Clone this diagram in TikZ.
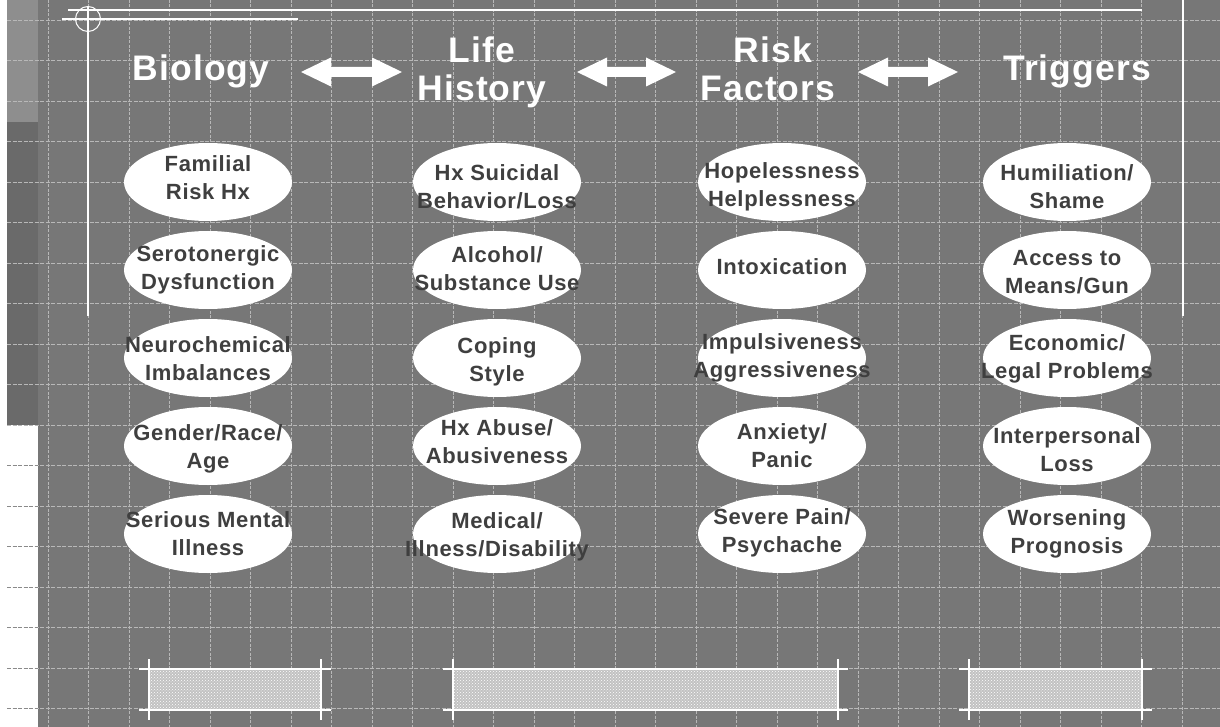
\documentclass[tikz,border=0pt]{standalone}
\usepackage{fontspec}
\setmainfont{Liberation Sans}
\newfontfamily\hdrfont{Liberation Sans}[LetterSpace=3]
\newfontfamily\ovfont{Liberation Sans}[LetterSpace=3]
\usetikzlibrary{shapes.geometric,patterns}
\definecolor{bg}{HTML}{777777}
\definecolor{stripA}{HTML}{8E8E8E}
\definecolor{stripB}{HTML}{6A6A6A}
\definecolor{gridc}{HTML}{B8B8B8}
\definecolor{gridw}{HTML}{8A8A8A}
\definecolor{txt}{HTML}{3F3F3F}
\definecolor{boxfill}{HTML}{C2C2C2}
\newcommand\myDblArrow[3]{%
  \fill[white] (#1,#3) -- (#1+30,#3-14.5) -- (#1+30,#3-5) -- (#2-30,#3-5) -- (#2-30,#3-14.5)
   -- (#2,#3) -- (#2-30,#3+14.5) -- (#2-30,#3+5) -- (#1+30,#3+5) -- (#1+30,#3+14.5) -- cycle;}
\newcommand\myBottomBox[2]{%
  \fill[boxfill] (#1,669) rectangle (#2,710);
  \fill[pattern=crosshatch dots, pattern color=white] (#1,669) rectangle (#2,710);
  \draw[deco] (#1-10,669) -- (#2+10,669);
  \draw[deco] (#1-10,710) -- (#2+10,710);
  \draw[deco] (#1,659) -- (#1,720);
  \draw[deco] (#2,659) -- (#2,720);}
% #1 name, #2 x, #3 y, #4 text y offset, #5 text
\newcommand\myOval[5]{%
  \node[oval] (#1) at (#2,#3) {};
  \node[otext, yshift=-#4pt] at (#1) {#5};}
\begin{document}
\begin{tikzpicture}[x=1pt,y=-1pt,
  gridv/.style={gridc, line width=0.8pt, dash pattern=on 3pt off 1.5pt},
  gridh/.style={gridc, line width=0.8pt, dash pattern=on 4pt off 1.5pt},
  gridwh/.style={gridw, line width=0.8pt, dash pattern=on 4pt off 1.5pt},
  deco/.style={white, line width=1.6pt},
  hdr/.style={text=white, inner sep=0pt, font=\hdrfont\bfseries\fontsize{35.5}{40}\selectfont},
  oval/.style={ellipse, fill=white, minimum width=168pt, minimum height=78pt, inner sep=0pt},
  otext/.style={text=txt, align=center, inner sep=0pt, font=\ovfont\bfseries\fontsize{22}{28}\selectfont}]
\useasboundingbox (0,0) rectangle (1220,727);
\fill[white] (0,0) rectangle (1220,727);
\fill[bg] (38,0) rectangle (1220,727);
\fill[stripA] (7,0) rectangle (38,122);
\fill[stripB] (7,122) rectangle (38,425);
% grid
\foreach \k in {0,...,28} \draw[gridv] ({48+40.5*\k},0) -- ({48+40.5*\k},727);
\foreach \k in {0,...,17} \draw[gridh] (7,{20+40.5*\k}) -- (1220,{20+40.5*\k});
\foreach \k in {11,...,17} \draw[gridwh] (7,{20+40.5*\k}) -- (38,{20+40.5*\k});
% decorations
\draw[deco] (68,10) -- (1142,10);
\draw[deco] (62,19) -- (298,19);
\draw[deco] (88,6) -- (88,316);
\draw[white, line width=1pt] (88,19) circle[radius=12.5];
\draw[deco] (1183,0) -- (1183,316);
% headers
\node[hdr, anchor=base] (bio) at (201,81) {Biology};
\node[hdr, anchor=base] (life) at (482,63) {Life};
\node[hdr, anchor=base] (hist) at (482,101) {History};
\node[hdr, anchor=base] (risk) at (773,63) {Risk};
\node[hdr, anchor=base] (fact) at (768,101) {Factors};
\node[hdr, anchor=base] (trig) at (1077,81) {Triggers};
% arrows
\myDblArrow{301}{402}{72}
\myDblArrow{577}{676}{72}
\myDblArrow{858}{958}{72}
% column 1
\myOval{b1}{208}{182}{-4.5}{Familial\\Risk Hx}
\myOval{b2}{208}{270}{-0.5}{Serotonergic\\Dysfunction}
\myOval{b3}{208}{358}{1}{Neurochemical\\Imbalances}
\myOval{b4}{208}{446}{2.5}{Gender/Race/\\Age}
\myOval{b5}{208}{534}{-0.5}{Serious Mental\\Illness}
% column 2
\myOval{l1}{497}{182}{5}{Hx Suicidal\\Behavior/Loss}
\myOval{l2}{497}{270}{-1}{Alcohol/\\Substance Use}
\myOval{l3}{497}{358}{4}{Coping\\Style}
\myOval{l4}{497}{446}{-4}{Hx Abuse/\\Abusiveness}
\myOval{l5}{497}{534}{3}{Medical/\\Illness/Disability}
% column 3
\myOval{r1}{782}{182}{5}{Hopelessness\\Helplessness}
\myOval{r2}{782}{270}{-3}{Intoxication}
\myOval{r3}{782}{358}{-0.5}{Impulsiveness\\Aggressiveness}
\myOval{r4}{782}{446}{0}{Anxiety/\\Panic}
\myOval{r5}{782}{534}{-1}{Severe Pain/\\Psychache}
% column 4
\myOval{t1}{1067}{182}{5}{Humiliation/\\Shame}
\myOval{t2}{1067}{270}{2.5}{Access to\\Means/Gun}
\myOval{t3}{1067}{358}{0.5}{Economic/\\Legal Problems}
\myOval{t4}{1067}{446}{4}{Interpersonal\\Loss}
\myOval{t5}{1067}{534}{0}{Worsening\\Prognosis}
% bottom boxes
\myBottomBox{149}{321}
\myBottomBox{453}{838}
\myBottomBox{969}{1142}
\end{tikzpicture}
\end{document}
